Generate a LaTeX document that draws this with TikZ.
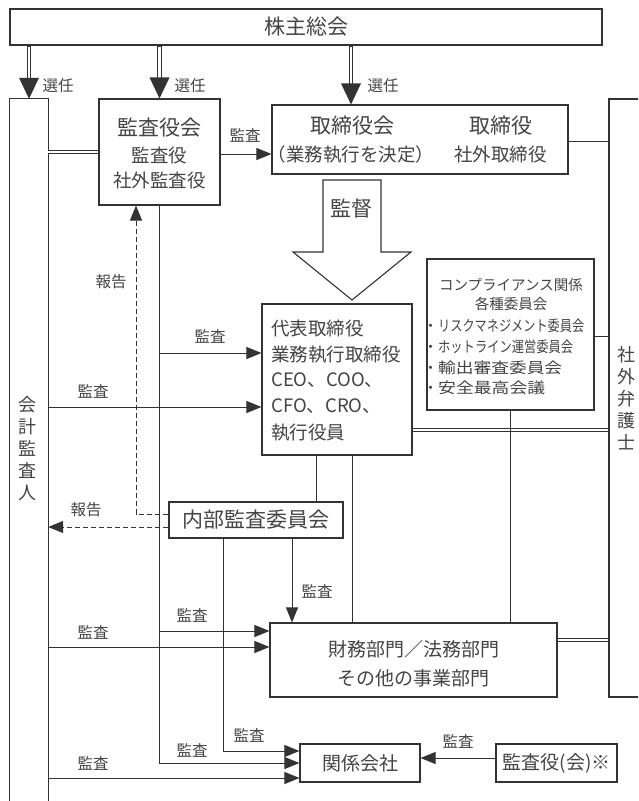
\documentclass[tikz,border=0pt]{standalone}
\usepackage{fontspec}
\usepackage{graphicx}
\usetikzlibrary{arrows.meta,calc}
\newfontfamily\jp{Noto Sans CJK JP}
\newcommand{\fs}[1]{\fontsize{#1pt}{#1pt}\selectfont\jp}
\newcommand{\fsb}[2]{\fontsize{#1pt}{#2pt}\selectfont\jp}
\definecolor{lc}{HTML}{333333}
\definecolor{tc}{HTML}{444444}
\tikzset{
  box/.style={draw=lc, line width=1.1pt, fill=white, inner sep=0pt, text=tc},
  txt/.style={inner sep=0pt, text=tc},
  lbl/.style={txt, font=\fs{15.5}},
  arr/.style={draw=lc, line width=1pt, -{Triangle[length=15pt,width=12pt]}},
  dasharr/.style={arr, dash pattern=on 5pt off 3pt},
  dline/.style={draw=lc, line width=0.9pt, double=white, double distance=2.2pt},
  conn/.style={draw=lc, line width=1pt},
  selout/.style={draw=lc, line width=4.8pt},
  selin/.style={draw=white, line width=2.8pt},
  selhead/.style={fill=lc},
}
\newcommand{\selarrow}[2]{%
  \draw[selout] (#1) -- ($(#2)+(0,-20)$);
  \draw[selin] ($(#1)+(0,1.2)$) -- ($(#2)+(0,-20.2)$);
  \fill[selhead] (#2) -- ($(#2)+(-10,-21)$) -- ($(#2)+(10,-21)$) -- cycle;}
\begin{document}
\begin{tikzpicture}[x=1pt,y=-1pt]
\useasboundingbox (0,0) rectangle (638,801);
\clip (0,0) rectangle (638,801);

% ---- boxes ----
\node[box, minimum width=592pt, minimum height=36pt] (kabu) at (306,27) {\fs{21}株主総会};
\node[inner sep=0pt, minimum width=38pt, minimum height=702pt] (kaikei) at (29,450) {};
\draw[lc, line width=1.1pt] (kaikei.south west) -- (kaikei.north west) -- (kaikei.north east) -- (kaikei.south east);
\node[txt, align=center, font=\fsb{18}{22}] (kaikeiT) at (28,449) {会\\計\\監\\査\\人};

\node[box, minimum width=60pt, minimum height=598pt] (bengoshi) at (639,398) {};
\node[txt, align=center, font=\fsb{18}{22}] (bengoshiT) at (626,398) {社\\外\\弁\\護\\士};

\node[box, minimum width=121pt, minimum height=106pt] (kansayakukai) at (159.5,152) {};
\node[txt, font=\fs{21}] (ks1) at (159.5,128) {監査役会};
\node[txt, font=\fs{18.5}] (ks2) at (159.5,155) {監査役};
\node[txt, font=\fs{18.5}] (ks3) at (159.5,180) {社外監査役};

\node[box, minimum width=296pt, minimum height=69pt] (torishimari) at (420,139.5) {};
\node[txt, font=\fs{21}] (tr1) at (352,126) {取締役会};
\node[txt, font=\fs{18.5}] (tr2) at (351,154) {（業務執行を決定）};
\node[txt, font=\fs{21}] (tr3) at (501,126) {取締役};
\node[txt, font=\fs{18.5}] (tr4) at (500.5,154) {社外取締役};

\node[box, minimum width=150pt, minimum height=151pt] (daihyo) at (337,379.5) {};
\node[txt, anchor=west, font=\fs{18.5}] (dh1) at (271,328) {代表取締役};
\node[txt, anchor=west, font=\fs{18.5}] (dh2) at (271,355) {業務執行取締役};
\node[txt, anchor=west, font=\fs{18.5}] (dh3) at (271,380) {CEO、COO、};
\node[txt, anchor=west, font=\fs{18.5}] (dh4) at (271,406) {CFO、CRO、};
\node[txt, anchor=west, font=\fs{18.5}] (dh5) at (271,433) {執行役員};

\node[box, minimum width=167pt, minimum height=151pt] (comp) at (510.5,334.5) {};
\node[txt, font=\fs{14.5}] (c1) at (511,285) {コンプライアンス関係};
\node[txt, font=\fs{14.5}] (c2) at (511,304) {各種委員会};
\node[txt, anchor=west] (c3) at (423,326) {\fs{15}・\resizebox{146pt}{\height}{\fs{15}リスクマネジメント委員会}};
\node[txt, anchor=west] (c4) at (423,347) {\fs{15}・\resizebox{135pt}{\height}{\fs{15}ホットライン運営委員会}};
\node[txt, anchor=west] (c5) at (423,368) {\fs{15}・\resizebox{124pt}{\height}{\fs{15}輸出審査委員会}};
\node[txt, anchor=west] (c6) at (423,388) {\fs{15}・\resizebox{107pt}{\height}{\fs{15}安全最高会議}};

\node[box, minimum width=174pt, minimum height=36pt] (naibu) at (256,520) {\fs{21}内部監査委員会};

\node[box, minimum width=287pt, minimum height=74pt] (zaimu) at (413.5,660) {};
\node[txt, font=\fs{19}] (zm1) at (413.5,649) {財務部門／法務部門};
\node[txt, font=\fs{19}] (zm2) at (413.5,678) {その他の事業部門};

\node[box, minimum width=120pt, minimum height=38pt] (kankei) at (360,763) {\fs{19}関係会社};
\node[box, minimum width=121pt, minimum height=38pt] (kansayaku2) at (556.5,763) {\fs{19}監査役(会)※};

% ---- 選任 arrows ----
\selarrow{kabu.south -| kaikei.north}{kaikei.north}
\selarrow{kabu.south -| kansayakukai.north}{kansayakukai.north}
\selarrow{kabu.south -| 351,0}{torishimari.north -| 351,0}
\node[lbl] (sn1) at (58,86) {選任};
\node[lbl] (sn2) at (190,86) {選任};
\node[lbl] (sn3) at (383,86) {選任};

% ---- 監督 hollow arrow ----
\draw[lc, line width=1.1pt, fill=white, line join=miter]
  (323,180) -- (381,180) -- (381,252) -- (411,252) -- (352,300) -- (293,252) -- (323,252) -- cycle;
\node[txt, font=\fs{21}] (kantoku) at (351,209) {監督};

% ---- double lines ----
\draw[dline] (kaikei.east |- kansayakukai.west) -- (kansayakukai.west);
\draw[dline] (torishimari.east) -- (torishimari.east -| bengoshi.west);
\draw[dline] (comp.east) -- (comp.east -| bengoshi.west);
\draw[dline] (daihyo.east |- 0,430) -- (bengoshi.west |- 0,430);
\draw[dline] (zaimu.east |- 0,640) -- (bengoshi.west |- 0,640);

% ---- audit arrows ----
\draw[arr] (kansayakukai.east |- 0,154) -- (torishimari.west |- 0,154);
\node[lbl] (l1) at (245,135) {監査};

\draw[arr] (kansayakukai.south) |- (kankei.west);
\draw[arr] (kansayakukai.south |- 0,353) -- (daihyo.west |- 0,353);
\node[lbl] (l2) at (210,336) {監査};
\draw[arr] (kansayakukai.south |- 0,631) -- (zaimu.west |- 0,631);
\node[lbl] (l3) at (192,615) {監査};
\node[lbl] (l4) at (192,750) {監査};

\draw[arr] (kaikei.east |- 0,407) -- (daihyo.west |- 0,407);
\node[lbl] (l5) at (93,391) {監査};
\draw[arr] (kaikei.east |- 0,647) -- (zaimu.west |- 0,647);
\node[lbl] (l6) at (93,632) {監査};
\draw[arr] (kaikei.east |- 0,778) -- (kankei.west |- 0,778);
\node[lbl] (l7) at (93,763) {監査};

\draw[conn] (comp.south) -- (comp.south |- zaimu.north);
\draw[conn] (daihyo.south -| 352,0) -- (zaimu.north -| 352,0);
\draw[conn] (daihyo.south -| 316,0) -- (naibu.north -| 316,0);

\draw[dasharr] (naibu.west |- 0,514) -| (kansayakukai.south -| 136,0);
\node[lbl] (r1) at (111,282) {報告};
\draw[dasharr] (naibu.west |- 0,527) -- (kaikei.east |- 0,527);
\node[lbl] (r2) at (86,510) {報告};

\draw[arr] (naibu.south -| 223,0) |- (kankei.west |- 0,751);
\node[lbl] (l8) at (249,735) {監査};
\draw[arr] (naibu.south -| 292,0) -- (zaimu.north -| 292,0);
\node[lbl] (l9) at (317,591) {監査};

\draw[arr] (kansayaku2.west |- 0,758) -- (kankei.east |- 0,758);
\node[lbl] (l10) at (458,741) {監査};
\end{tikzpicture}
\end{document}
